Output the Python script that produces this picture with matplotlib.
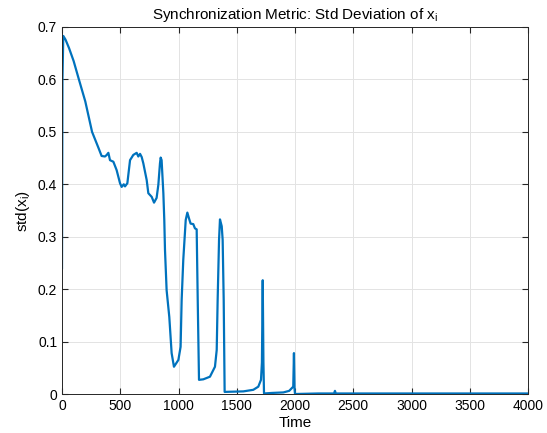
import numpy as np
import matplotlib
matplotlib.use("Agg")
import matplotlib.pyplot as plt

plt.rcParams['font.family'] = ['Liberation Sans', 'DejaVu Sans']
plt.rcParams['mathtext.fontset'] = 'custom'
plt.rcParams['mathtext.rm'] = 'Liberation Sans'
plt.rcParams['mathtext.it'] = 'Liberation Sans'

# time / std values
t = [0, 4, 11, 30, 60, 100, 145, 200, 258, 285, 312, 340, 369, 384, 398,
     412, 441, 469, 498, 512, 530, 541, 561, 584, 612, 641, 655, 670, 684,
     698, 727, 741, 770, 790, 812, 827, 841, 847, 855, 870, 878, 884, 898,
     921, 941, 961, 999, 1018, 1027, 1041, 1062, 1076, 1090, 1104, 1127,
     1141, 1156, 1165, 1176, 1213, 1270, 1313, 1328, 1336, 1348, 1356, 1371,
     1379, 1388, 1396, 1557, 1642, 1685, 1708, 1716, 1723, 1729, 1734, 1800,
     1900, 1950, 1985, 1991, 1996, 2000, 2200, 2335, 2343, 2350, 2600, 3000,
     4000]
sd = [0.24, 0.60, 0.683, 0.676, 0.660, 0.635, 0.600, 0.558, 0.500, 0.485,
      0.470, 0.454, 0.453, 0.456, 0.460, 0.446, 0.443, 0.427, 0.402, 0.395,
      0.400, 0.396, 0.402, 0.446, 0.456, 0.460, 0.453, 0.458, 0.452, 0.440,
      0.408, 0.383, 0.376, 0.365, 0.374, 0.399, 0.440, 0.451, 0.446, 0.383,
      0.332, 0.275, 0.198, 0.147, 0.078, 0.052, 0.065, 0.090, 0.179, 0.256,
      0.332, 0.346, 0.335, 0.325, 0.324, 0.316, 0.314, 0.179, 0.027, 0.028,
      0.033, 0.052, 0.084, 0.179, 0.294, 0.333, 0.320, 0.294, 0.179, 0.004,
      0.005, 0.008, 0.014, 0.027, 0.06, 0.217, 0.06, 0.001, 0.002, 0.003,
      0.006, 0.014, 0.078, 0.01, 0.0, 0.001, 0.001, 0.006, 0.001, 0.001,
      0.001, 0.001]

fig = plt.figure(figsize=(5.47, 4.33), dpi=100)
ax = fig.add_axes([62/547, 1-394/433, 466/547, 367/433])
ax.plot(t, sd, color='#0072BD', lw=1.6)

ax.set_xlim(0, 4000)
ax.set_ylim(0, 0.7)
ax.set_xticks(np.arange(0, 4001, 500))
ax.set_yticks(np.arange(0, 0.71, 0.1))
ax.set_yticklabels(['0', '0.1', '0.2', '0.3', '0.4', '0.5', '0.6', '0.7'])
ax.grid(True, color='#e3e3e3', lw=0.7)
ax.set_axisbelow(True)
ax.tick_params(direction='in', top=True, right=True, labelsize=10,
               color='#262626', length=4)
for s in ax.spines.values():
    s.set_color('#262626')
    s.set_linewidth(0.7)

ax.set_title(r'Synchronization Metric: Std Deviation of x$_\mathregular{i}$',
             fontsize=11, pad=6)
ax.set_xlabel('Time', fontsize=11, labelpad=2)
ax.set_ylabel(r'std(x$_\mathregular{i}$)', fontsize=11, labelpad=4)

fig.savefig('out.png', dpi=100)
